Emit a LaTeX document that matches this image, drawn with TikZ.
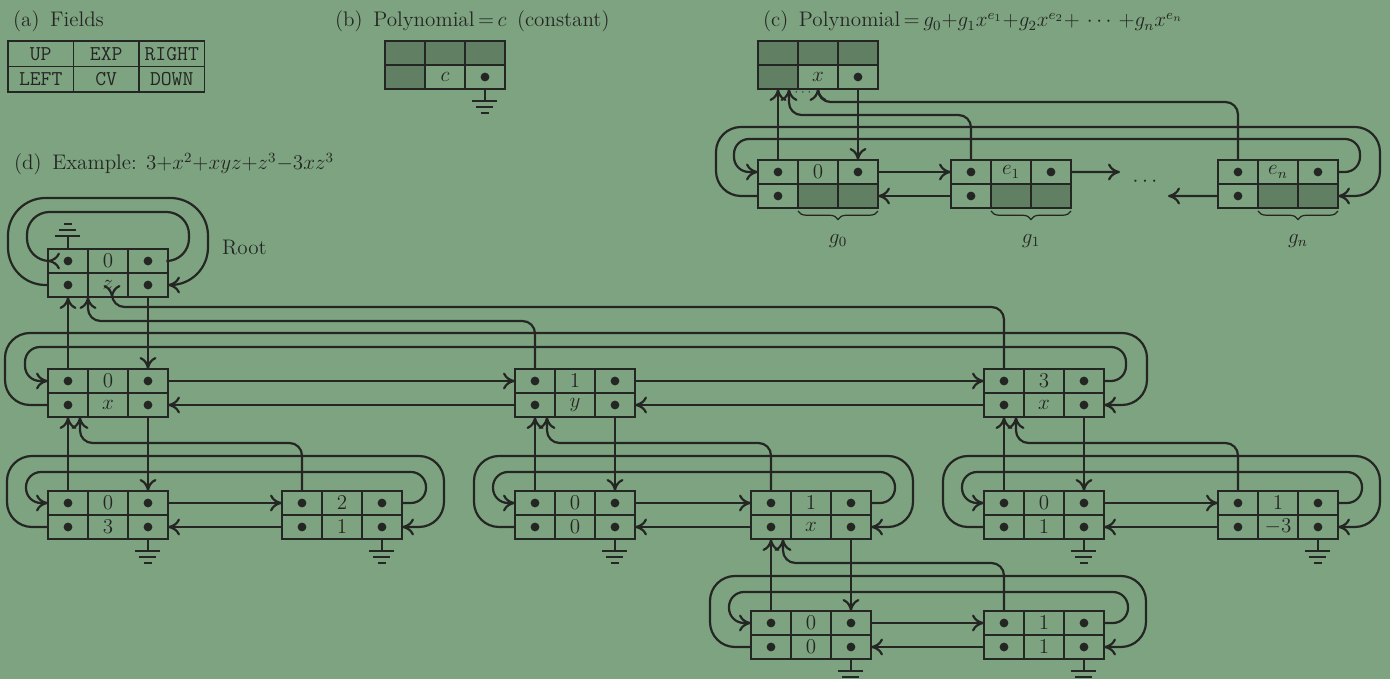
\documentclass[tikz,border=0pt]{standalone}
\usetikzlibrary{positioning,calc,arrows.meta,decorations.pathreplacing}
\definecolor{paper}{RGB}{126,163,128}
\definecolor{ink}{RGB}{36,38,36}
\definecolor{shade}{RGB}{96,127,99}
\tikzset{
  wire/.style={draw=ink, line width=1.25pt},
  link/.style={wire, -{Computer Modern Rightarrow[length=2.4mm,width=3.4mm]}, rounded corners=0.25cm},
  cell/.style={draw=ink, line width=0.7pt, minimum width=0.8cm, minimum height=0.48cm, inner sep=0pt, outer sep=0pt},
  field/.style={cell, minimum width=1.31cm, minimum height=0.51cm, font=\fontsize{12}{14}\selectfont\ttfamily},
  shaded/.style={fill=shade, draw=ink, line width=0.7pt},
  dot/.style={fill=ink},
  brace/.style={draw=ink, line width=0.7pt, decorate, decoration={brace, amplitude=0.17cm, raise=0.06cm}},
  earth/.pic={\draw[wire] (-12.5,0) -- (12.5,0) (-8.5,6) -- (8.5,6) (-4,12) -- (4,12);}
}
% one node of the lists: UP EXP RIGHT / LEFT CV DOWN
\newcommand\pnode[4]{%
  \node[cell, anchor=north west] (#1-up) at (#2) {};
  \node[cell, right=0pt of #1-up] (#1-exp) {#3};
  \node[cell, right=0pt of #1-exp] (#1-right) {};
  \node[cell, below=0pt of #1-up] (#1-left) {};
  \node[cell, right=0pt of #1-left] (#1-cv) {#4};
  \node[cell, right=0pt of #1-cv] (#1-down) {};
}
\begin{document}
\begin{tikzpicture}[x=0.02cm, y=-0.02cm, text=ink, font=\fontsize{12}{14}\selectfont]
  \fill[paper, use as bounding box] (0,0) rectangle (1390,679);
  \clip (0,0) rectangle (1390,679);
  % (a) fields
  \node[anchor=base west] (ta) at (7,27) {(a)\enspace Fields};
  \node[field, anchor=north west] (f-up) at (8,41) {UP};
  \node[field, right=0pt of f-up] (f-exp) {EXP};
  \node[field, right=0pt of f-exp] (f-right) {RIGHT};
  \node[field, below=0pt of f-up] (f-left) {LEFT};
  \node[field, right=0pt of f-left] (f-cv) {CV};
  \node[field, right=0pt of f-cv] (f-down) {DOWN};
  % (b) constant
  \node[anchor=base west] (tb) at (329,27) {(b)\enspace Polynomial$\,{=}\,c$\enspace (constant)};
  \pnode{K}{385,41}{}{$c$}
  \foreach \c in {up,exp,right,left} \filldraw[shaded] (K-\c.north west) rectangle (K-\c.south east);
  \fill[dot] (K-down) circle[radius=2.5pt];
  \draw[wire] (K-down) -- ++(0,24) pic {earth};
  % (c) polynomial in x
  \node[anchor=base west] (tc) at (757,27) {(c)\enspace Polynomial$\,{=}\,g_0{+}g_1x^{e_1}{+}g_2x^{e_2}{+}\,\cdots\,{+}g_nx^{e_n}$};
  \pnode{H}{758,41}{}{$x$}
  \pnode{N0}{758,160}{$0$}{}
  \pnode{N1}{951,160}{$e_1$}{}
  \pnode{Nn}{1218,160}{$e_n$}{}
  \foreach \c in {up,exp,right,left} \filldraw[shaded] (H-\c.north west) rectangle (H-\c.south east);
  \foreach \n in {N0,N1,Nn} \foreach \c in {cv,down} \filldraw[shaded] (\n-\c.north west) rectangle (\n-\c.south east);
  \foreach \n in {N0,N1,Nn} \foreach \c in {up,right,left} \fill[dot] (\n-\c) circle[radius=2.5pt];
  \fill[dot] (H-down) circle[radius=2.5pt];
  \node (cdots) at (1145,182) {$\cdots$};
  \node[font=\scriptsize] (hdots) at (803,93) {$\cdots$};
  \coordinate (gapR) at (1120,172);
  \coordinate (gapL) at (1168,196);
  \draw[link] (H-down) -- (N0-right.north);
  \draw[link] (N0-up) -- (H-left.south);
  \draw[link] (N1-up) -- ++(0,-57) -| ($(H-left.south)+(11,0)$);
  \draw[link] (Nn-up) -- ++(0,-70) -| ($(H-left.south)+(40,0)$);
  \draw[link] (N0-right) -- (N1-up.west);
  \draw[link] (N1-left) -- (N0-down.east);
  \draw[link] (N1-right) -- (gapR);
  \draw[link] (Nn-left) -- (gapL);
  \draw[link, rounded corners=0.3cm] (Nn-right) -| ++(42,-33) -| ($(N0-up.west)+(-24,0)$) -- (N0-up.west);
  \draw[link, rounded corners=0.5cm] (N0-left) -| ++(-62,-69) -| ($(Nn-down.east)+(42,0)$) -- (Nn-down.east);
  \foreach \n/\g in {N0/g_0, N1/g_1, Nn/g_n}
    \draw[brace] (\n-down.south east) -- (\n-cv.south west) node[midway, below=0.4cm] (\n-g) {$\g$};
  % (d) example
  \node[anchor=base west] (td) at (8,170) {(d)\enspace Example: $3{+}x^2{+}xyz{+}z^3{-}3xz^3$};
  \pnode{R}{48,249}{$0$}{$z$}
  \node[anchor=west] (rootlbl) at (216,248) {Root};
  \pnode{A}{48,369}{$0$}{$x$}
  \pnode{B}{515,369}{$1$}{$y$}
  \pnode{C}{984,369}{$3$}{$x$}
  \pnode{A0}{48,491}{$0$}{$3$}
  \pnode{A1}{282,491}{$2$}{$1$}
  \pnode{B0}{515,491}{$0$}{$0$}
  \pnode{B1}{751,491}{$1$}{$x$}
  \pnode{C0}{984,491}{$0$}{$1$}
  \pnode{C1}{1218,491}{$1$}{$-3$}
  \pnode{D0}{751,611}{$0$}{$0$}
  \pnode{D1}{984,611}{$1$}{$1$}
  \foreach \n in {R,A,B,C,A0,A1,B0,B1,C0,C1,D0,D1}
    \foreach \c in {up,right,left,down} \fill[dot] (\n-\c) circle[radius=2.5pt];
  % root
  \draw[wire] (R-up) -- ++(0,-25) pic[rotate=180] {earth};
  \draw[link, rounded corners=0.45cm] (R-right) -| ++(41,-49) -| ($(R-up.west)+(-21,0)$) -- (R-up.west);
  \draw[link, rounded corners=0.75cm] (R-left) -| ++(-60,-87) -| ($(R-down.east)+(40,0)$) -- (R-down.east);
  \draw[link] (R-down) -- (A-right.north);
  \draw[link] (A-up) -- (R-left.south);
  \draw[link] (B-up) -- ++(0,-60) -| ($(R-left.south)+(20,0)$);
  \draw[link] (C-up) -- ++(0,-74) -| ($(R-left.south)+(44,0)$);
  % first level
  \draw[link] (A-right) -- (B-up.west);
  \draw[link] (B-left) -- (A-down.east);
  \draw[link] (B-right) -- (C-up.west);
  \draw[link] (C-left) -- (B-down.east);
  \draw[link, rounded corners=0.3cm] (C-right) -| ++(42,-34) -| ($(A-up.west)+(-23,0)$) -- (A-up.west);
  \draw[link, rounded corners=0.5cm] (A-left) -| ++(-63,-72) -| ($(C-down.east)+(43,0)$) -- (C-down.east);
  % lower levels
  \foreach \pa/\na/\nb in {A/A0/A1, B/B0/B1, C/C0/C1, B1/D0/D1} {
    \draw[link] (\pa-down) -- (\na-right.north);
    \draw[link] (\na-up) -- (\pa-left.south);
    \draw[link] (\nb-up) -- ++(0,-60) -| ($(\pa-left.south)+(12,0)$);
    \draw[link] (\na-right) -- (\nb-up.west);
    \draw[link] (\nb-left) -- (\na-down.east);
    \draw[link, rounded corners=0.3cm] (\nb-right) -| ++(44,-31) -| ($(\na-up.west)+(-22,0)$) -- (\na-up.west);
    \draw[link, rounded corners=0.5cm] (\na-left) -| ++(-61,-71) -| ($(\nb-down.east)+(42,0)$) -- (\nb-down.east);
  }
  \foreach \n in {A0,A1,B0,C0,C1,D0,D1} \draw[wire] (\n-down) -- ++(0,24) pic {earth};
\end{tikzpicture}
\end{document}
